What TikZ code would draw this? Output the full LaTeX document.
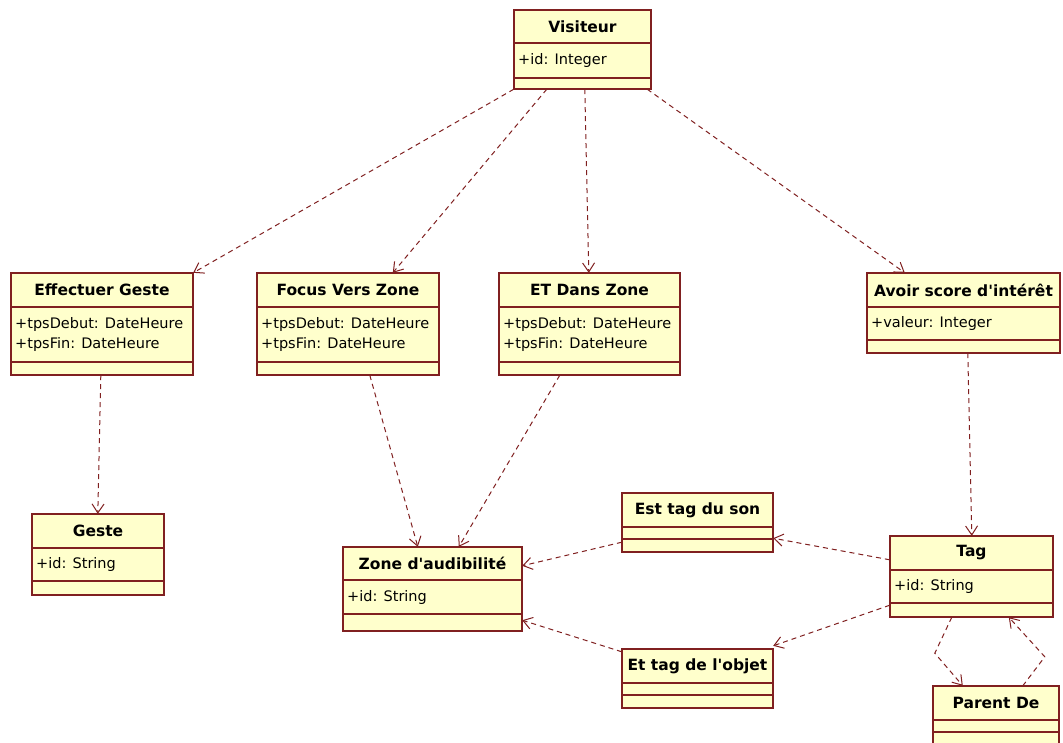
\documentclass[tikz,border=0pt]{standalone}
\usepackage{fontspec}
\setmainfont{DejaVu Sans}[Ligatures=TeXOff]
\usetikzlibrary{arrows.meta,calc,fit}
\definecolor{umlred}{RGB}{128,32,32}
\definecolor{umlfill}{RGB}{255,255,204}
\tikzset{
  classbox/.style={draw=umlred, line width=1.3pt},
  classfill/.style={classbox, fill=umlfill},
  titletext/.style={inner sep=0pt, font=\bfseries\fontsize{15.5}{18}\selectfont},
  attrtext/.style={inner sep=0pt, anchor=west, align=left, font=\fontsize{14.5}{20}\selectfont},
  dep/.style={draw=umlred, line width=1pt, dash pattern=on 5pt off 4pt,
    -{Straight Barb[length=9pt,width=12pt,line width=1pt]}},
}
\newcommand\umlclass[9]{%
  \draw[classfill] (#2,#3) rectangle (#4,#5);
  \node[fit={(#2,#3)(#4,#5)}, inner sep=0pt] (#1) {};
  \draw[classbox] (#2,#6) -- (#4,#6) (#2,#7) -- (#4,#7);
  \node[titletext] at ({(#2+#4)/2},{(#3+#6)/2}) {#8};
  \node[attrtext] at ({#2+4},{(#6+#7)/2}) {#9};
}
\begin{document}
\begin{tikzpicture}[x=1pt,y=-1pt]
\clip (0,0) rectangle (1063,742);
\fill[white] (0,0) rectangle (1063,742);
\umlclass{vis}{514}{10}{651}{89}{43}{78}{Visiteur}{+id: Integer}
\umlclass{eg}{11}{273}{193}{375}{307}{362}{Effectuer Geste}{+tpsDebut: DateHeure\\+tpsFin: DateHeure}
\umlclass{fvz}{257}{273}{439}{375}{307}{362}{Focus Vers Zone}{+tpsDebut: DateHeure\\+tpsFin: DateHeure}
\umlclass{edz}{499}{273}{680}{375}{307}{362}{ET Dans Zone}{+tpsDebut: DateHeure\\+tpsFin: DateHeure}
\umlclass{asi}{867}{273}{1060}{353}{307}{340}{Avoir score d'intérêt}{+valeur: Integer}
\umlclass{geste}{32}{514}{164}{595}{548}{581}{Geste}{+id: String}
\umlclass{zone}{343}{547}{522}{631}{580}{614}{Zone d'audibilité}{+id: String}
\umlclass{etds}{622}{493}{773}{552}{527}{539}{Est tag du son}{}
\umlclass{etdo}{622}{649}{773}{708}{683}{695}{Et tag de l'objet}{}
\umlclass{tag}{890}{536}{1053}{617}{570}{603}{Tag}{+id: String}
\umlclass{pd}{933}{686}{1059}{748}{720}{732}{Parent De}{}
% Visiteur dependencies
\draw[dep] (vis.south west) -- (eg.north east);
\draw[dep] ($(vis.south west)+(33,0)$) -- ($(fvz.north west)+(136,0)$);
\draw[dep] ($(vis.south west)+(71,0)$) -- ($(edz.north west)+(90,0)$);
\draw[dep] ($(vis.south east)+(-4,0)$) -- ($(asi.north west)+(38,0)$);
% second level
\draw[dep] ($(eg.south west)+(90,0)$) -- ($(geste.north west)+(66,0)$);
\draw[dep] ($(fvz.south west)+(113,0)$) -- ($(zone.north west)+(75,0)$);
\draw[dep] ($(edz.south west)+(61,0)$) -- ($(zone.north west)+(116,0)$);
\draw[dep] ($(asi.south west)+(101,0)$) -- ($(tag.north west)+(82,0)$);
% tags
\draw[dep] ($(etds.south west)+(0,-10)$) -- ($(zone.north east)+(0,19)$);
\draw[dep] ($(tag.north west)+(0,24)$) -- ($(etds.south east)+(0,-14)$);
\draw[dep] ($(etdo.north west)+(0,3)$) -- ($(zone.south east)+(0,-11)$);
\draw[dep] ($(tag.south west)+(0,-12)$) -- ($(etdo.north east)+(0,-3)$);
% Parent De
\draw[dep] ($(tag.south west)+(62,0)$) -- ($(tag.south west)+(45,36)$) -- ($(pd.north west)+(30,0)$);
\draw[dep] ($(pd.north west)+(90,0)$) -- ($(pd.north west)+(112,-29)$) -- ($(tag.south west)+(119,0)$);
\end{tikzpicture}
\end{document}
